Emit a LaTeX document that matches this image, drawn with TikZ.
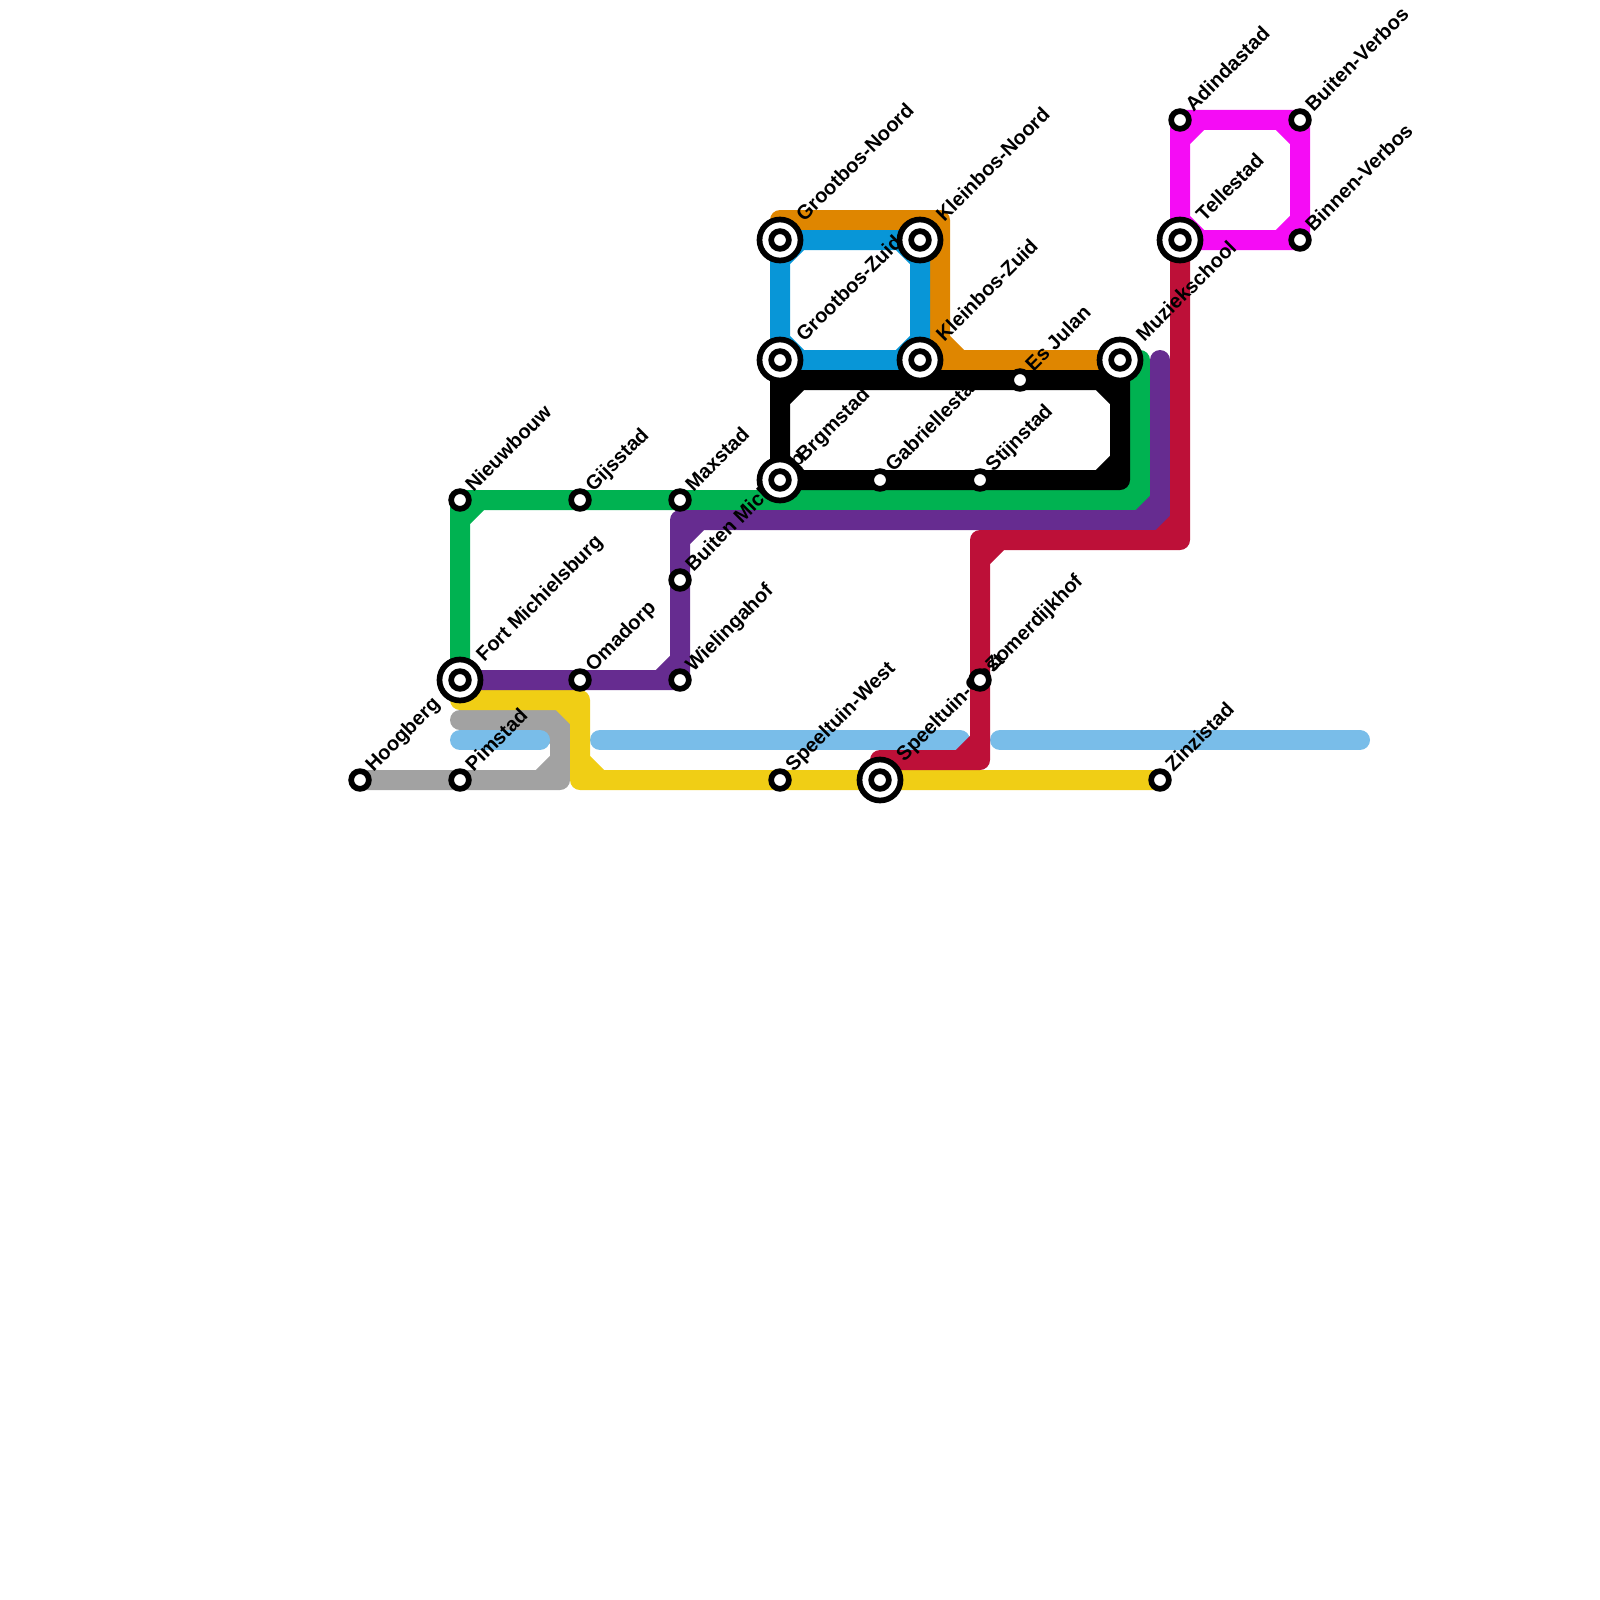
\documentclass[tikz,border=0pt]{standalone}
\usepackage{fontspec}
\setmainfont{Liberation Sans}
\usetikzlibrary{calc}
\definecolor{linegray}{HTML}{A2A2A2}
\definecolor{linelight}{HTML}{79BDE9}
\definecolor{lineyellow}{HTML}{F0CE15}
\definecolor{lineorange}{HTML}{DF8600}
\definecolor{lineblue}{HTML}{0896D7}
\definecolor{linegreen}{HTML}{00B251}
\definecolor{linepurple}{HTML}{662C90}
\definecolor{linered}{HTML}{BD1038}
\definecolor{linemagenta}{HTML}{F50CF5}
\tikzset{
  metroline/.style={line width=10pt,line join=round,line cap=round},
  smallstop/.style={circle,draw=black,fill=white,line width=2.85pt,inner sep=0pt,outer sep=0pt,minimum size=8.85pt},
  bigring/.style={circle,draw=black,fill=white,line width=2.85pt,inner sep=0pt,outer sep=0pt,minimum size=20.5pt},
  stoplabel/.style={rotate=45,anchor=base west,inner sep=0pt,outer sep=0pt,font=\fontsize{10.05}{12}\selectfont\bfseries}
}
\begin{document}
\begin{tikzpicture}[x=10pt,y=-10pt]
    \useasboundingbox (0,0) rectangle (80,80);
    % stops
    \foreach \name/\x/\y in {hoogberg/18/39,pimstad/23/39,nieuwbouw/23/25,gijsstad/29/25,
      maxstad/34/25,fort/23/34,omadorp/29/34,wielingahof/34/34,buiten/34/29,brgmstad/39/24,
      speelwest/39/39,speeloost/44/39,zomerdijkhof/49/34,zinzistad/58/39,grootnoord/39/12,
      kleinnoord/46/12,grootzuid/39/18,kleinzuid/46/18,esjulan/51/19,gabrielle/44/24,
      stijnstad/49/24,muziek/56/18,adinda/59/6,verbosbuiten/65/6,verbosbinnen/65/12,telle/59/12}
      \coordinate (\name) at (\x,\y);
    % lines
    \draw[metroline,linegray] (23,36) -- (28,36) -- (28,39) -- (hoogberg)
      (27,36) -- (28,37) (28,38) -- (27,39);
    \draw[metroline,linelight] (23,37) -- (27,37) (30,37) -- (48,37) (50,37) -- (68,37);
    \draw[metroline,lineyellow] (fort) -- (23,35) -- (29,35) -- (29,39) -- (zinzistad)
      (28,35) -- (29,36) (29,38) -- (30,39);
    \draw[metroline,lineorange] (grootnoord) -- (39,11) -- (47,11) -- (47,18) -- (muziek)
      (46,11) -- (47,12) (47,17) -- (48,18);
    \draw[metroline,lineblue] (grootnoord) -- (kleinnoord) -- (kleinzuid) -- (grootzuid) -- cycle
      (39,13) -- (40,12) (45,12) -- (46,13) (46,17) -- (45,18) (40,18) -- (39,17);
    \draw[metroline,linegreen] (fort) -- (nieuwbouw) -- (57,25) -- (57,18)
      (23,26) -- (24,25) (56,25) -- (57,24);
    \draw[metroline,black] (39,19) -- (56,19) -- (56,24) -- (brgmstad) -- cycle
      (39,20) -- (40,19) (55,19) -- (56,20) (56,23) -- (55,24) (40,24) -- (39,23);
    \draw[metroline,linepurple] (fort) -- (wielingahof) -- (34,26) -- (58,26) -- (58,18)
      (33,34) -- (34,33) (34,27) -- (35,26) (57,26) -- (58,25);
    \draw[metroline,linered] (speeloost) -- (44,38) -- (49,38) -- (49,27) -- (59,27) -- (telle)
      (48,38) -- (49,37) (49,28) -- (50,27) (58,27) -- (59,26);
    \draw[metroline,linemagenta] (telle) -- (adinda) -- (verbosbuiten) -- (verbosbinnen) -- cycle
      (59,7) -- (60,6) (64,6) -- (65,7) (65,11) -- (64,12) (60,12) -- (59,11);
    % labels
    \foreach \name/\txt in {hoogberg/Hoogberg,pimstad/Pimstad,nieuwbouw/Nieuwbouw,gijsstad/Gijsstad,
      maxstad/Maxstad,omadorp/Omadorp,wielingahof/Wielingahof,buiten/Buiten Michdorp,
      speelwest/Speeltuin-West,zomerdijkhof/Zomerdijkhof,zinzistad/Zinzistad,esjulan/Es Julan,
      gabrielle/Gabriellestad,stijnstad/Stijnstad,adinda/Adindastad,verbosbuiten/Buiten-Verbos,
      verbosbinnen/Binnen-Verbos}
      \node[stoplabel] (\name-label) at ($(\name)+(0.68,-0.38)$) {\txt};
    \foreach \name/\txt in {fort/Fort Michielsburg,brgmstad/Brgmstad,speeloost/Speeltuin-Oost,
      grootnoord/Grootbos-Noord,kleinnoord/Kleinbos-Noord,grootzuid/Grootbos-Zuid,
      kleinzuid/Kleinbos-Zuid,muziek/Muziekschool,telle/Tellestad}
      \node[stoplabel] (\name-label) at ($(\name)+(1.22,-0.88)$) {\txt};
    % stations
    \foreach \name in {fort,brgmstad,speeloost,grootnoord,kleinnoord,grootzuid,kleinzuid,muziek,telle}
      \node[bigring] (\name-ring) at (\name) {};
    \foreach \name in {hoogberg,pimstad,nieuwbouw,gijsstad,maxstad,fort,omadorp,wielingahof,buiten,
      brgmstad,speelwest,speeloost,zomerdijkhof,zinzistad,grootnoord,kleinnoord,grootzuid,kleinzuid,
      esjulan,gabrielle,stijnstad,muziek,adinda,verbosbuiten,verbosbinnen,telle}
      \node[smallstop] (\name-stop) at (\name) {};
\end{tikzpicture}
\end{document}
